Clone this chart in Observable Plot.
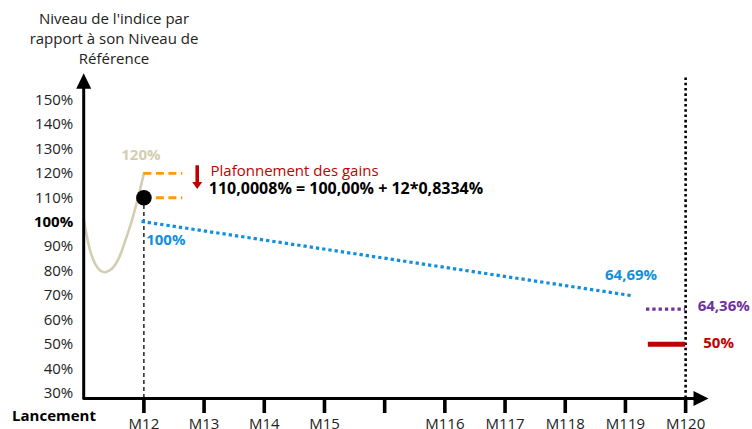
<!DOCTYPE html>
<html><head><meta charset="utf-8">
<script src="https://cdn.jsdelivr.net/npm/d3@7"></script>
<script src="https://cdn.jsdelivr.net/npm/@observablehq/plot@0.6"></script>
<style>
body{margin:0;background:#fff;font-family:"Open Sans",sans-serif;}
#wrap{position:relative;width:752px;height:429px;overflow:hidden;background:#fff;}
#title{position:absolute;left:0;top:8px;width:228px;text-align:center;font-size:15px;line-height:20px;color:#222;}
#chart{position:absolute;left:0;top:0;}
</style></head>
<body><div id="wrap"><div id="chart"></div><div id="title">Niveau de l'indice par<br>rapport à son Niveau de<br>Référence</div></div>
<script>
// ---- data (x in observation-date index: 0 = Lancement, 1 = M12 ... 10 = M120; y in %) ----
const xTickPos = [1, 2, 3, 4, 5, 6, 7, 8, 9, 10];
const xTickLabels = ["M12", "M13", "M14", "M15", "", "M116", "M117", "M118", "M119", "M120"];
const yTicks = [30, 40, 50, 60, 70, 80, 90, 100, 110, 120, 130, 140, 150];
const originLabel = "Lancement";

// index path from launch to M12
const pathX = [0, 0.025, 0.108, 0.19, 0.274, 0.357, 0.467, 0.578, 0.69, 0.80, 0.91, 1.0];
const pathY = [101.5, 97.9, 88.3, 82.9, 80.2, 79.5, 80.9, 85.0, 92.4, 100.6, 110.8, 120];

// cap on gains at M12
const capLevels = [120, 110];
const capSpanX = [1, 1.646];
const cappedPoint = [{x: 1, y: 110}];

// decrementing level M12 -> M119
const decX = [0.96, 9.11];
const decY = [100.3, 69.9];

// final levels at M120
const finalSpanX = [9.35, 10];
const finalIndex = 64.36;
const barrierSpanX = [9.38, 10];
const barrier = 50;

// annotations
const capTitle = "Plafonnement des gains";
const capFormula = "110,0008% = 100,00% + 12*0,8334%";
const capArrowX = 1.886;
const capArrowY = [123.1, 113.6];

// ---- scales ----
const yMin = 27.8, yMax = 161, xMax = 10.38;

const RED = "#c00000", BLUE = "#128fdc", PURPLE = "#7030a0", BEIGE = "#d3cdb2", ORANGE = "#ff9a00", INK = "#222";
const FONT = 15;

function head(w, h) {
  return {draw(ctx) { ctx.moveTo(0, 0); ctx.lineTo(-w / 2, h); ctx.lineTo(w / 2, h); ctx.closePath(); }};
}

const pathData = pathX.map((x, i) => ({x, y: pathY[i]}));
const decData = decX.map((x, i) => ({x, y: decY[i]}));

const chart = Plot.plot({
  width: 752, height: 429,
  marginLeft: 83.2, marginRight: 44, marginTop: 72.7, marginBottom: 31,
  x: {domain: [0, xMax], axis: null},
  y: {domain: [yMin, yMax], axis: null},
  style: {fontFamily: "Open Sans", fontSize: "15px", color: INK, background: "transparent", overflow: "visible"},
  marks: [
    // M12 dashed guide and M120 dotted guide
    Plot.ruleX([capSpanX[0]], {y1: yMin, y2: cappedPoint[0].y, stroke: "black", strokeWidth: 1.3, strokeDasharray: "4,3"}),
    Plot.ruleX([xTickPos[xTickPos.length - 1]], {y1: yMin, y2: yMax - 1.1, stroke: "black", strokeWidth: 2.6, strokeDasharray: "2.6,2.7"}),
    // index path
    Plot.line(pathData, {x: "x", y: "y", curve: "catmull-rom", stroke: BEIGE, strokeWidth: 2.6}),
    // cap lines
    Plot.ruleY(capLevels, {x1: capSpanX[0], x2: capSpanX[1], stroke: ORANGE, strokeWidth: 2.8, strokeDasharray: "8,4.5"}),
    // decrement line
    Plot.line(decData, {x: "x", y: "y", stroke: BLUE, strokeWidth: 3.2, strokeDasharray: "3.3,3", strokeLinecap: "butt"}),
    // final index & barrier
    Plot.ruleY([finalIndex], {x1: finalSpanX[0], x2: finalSpanX[1], stroke: PURPLE, strokeWidth: 3.2, strokeDasharray: "3.3,3"}),
    Plot.ruleY([barrier], {x1: barrierSpanX[0], x2: barrierSpanX[1], stroke: RED, strokeWidth: 5}),
    // capped point
    Plot.dot(cappedPoint, {x: "x", y: "y", r: 7.8, fill: "black", stroke: "none"}),
    // axes lines and arrowheads
    Plot.ruleX([0], {y1: yMin, y2: yMax - 4, stroke: "black", strokeWidth: 3, strokeLinecap: "square"}),
    Plot.ruleY([yMin], {x1: 0, x2: xMax - 0.2, stroke: "black", strokeWidth: 3}),
    Plot.dot([{x: 0, y: yMax}], {x: "x", y: "y", symbol: head(15, 15.6), fill: "black", stroke: "none"}),
    Plot.dot([{x: xMax, y: yMin}], {x: "x", y: "y", symbol: head(15, 15), rotate: 90, fill: "black", stroke: "none"}),
    // x ticks and labels
    Plot.axisX(xTickPos, {tickSize: 15, tickPadding: 5, strokeWidth: 3.6, stroke: "black", fill: INK, fontSize: FONT,
      tickFormat: d => xTickLabels[xTickPos.indexOf(d)], label: null}),
    Plot.text([originLabel], {frameAnchor: "bottom-left", textAnchor: "middle", lineAnchor: "middle", dx: -29.7, dy: 18, fontWeight: "bold", fontSize: FONT, fill: "black"}),
    // y tick labels
    Plot.text(yTicks.filter(d => d !== 100), {y: d => d, text: d => d + "%", frameAnchor: "left", textAnchor: "end", dx: -10.5, fontSize: FONT, fill: INK}),
    Plot.text(yTicks.filter(d => d === 100), {y: d => d, text: d => d + "%", frameAnchor: "left", textAnchor: "end", dx: -10.5, fontSize: FONT, fontWeight: "bold", fill: "black"}),
    // value labels
    Plot.text([pathData[pathData.length - 1]], {x: "x", y: "y", text: d => d.y + "%", dx: -3, dy: -18, fill: BEIGE, fontWeight: "bold", fontSize: FONT}),
    Plot.text([{x: capSpanX[0], y: 100}], {x: "x", y: "y", text: d => d.y + "%", textAnchor: "start", dx: 2.3, dy: 18.5, fill: BLUE, fontWeight: "bold", fontSize: FONT}),
    Plot.text([decData[decData.length - 1]], {x: "x", y: "y", text: () => "64,69%", dx: -1, dy: -20, fill: BLUE, fontWeight: "bold", fontSize: FONT}),
    Plot.text([{x: finalSpanX[1], y: finalIndex}], {x: "x", y: "y", text: d => String(d.y).replace(".", ",") + "%", textAnchor: "start", dx: 12, dy: -3.5, fill: PURPLE, fontWeight: "bold", fontSize: FONT}),
    Plot.text([{x: barrierSpanX[1], y: barrier}], {x: "x", y: "y", text: d => d.y + "%", textAnchor: "start", dx: 17.6, dy: -1, fill: RED, fontWeight: "bold", fontSize: FONT}),
    // cap annotation
    Plot.ruleX([capArrowX], {y1: capArrowY[0], y2: capArrowY[1] + 1.2, stroke: RED, strokeWidth: 3.6}),
    Plot.dot([{x: capArrowX, y: capArrowY[1]}], {x: "x", y: "y", symbol: head(10, 7), rotate: 180, fill: RED, stroke: "none"}),
    Plot.text([capTitle], {x: () => 2.107, y: () => 121, textAnchor: "start", fill: RED, fontSize: 15}),
    Plot.text([capFormula], {x: () => 2.078, y: () => 113.6, textAnchor: "start", fill: "black", fontWeight: "bold", fontSize: 16})
  ]
});
document.getElementById("chart").appendChild(chart);
</script>
</body></html>
